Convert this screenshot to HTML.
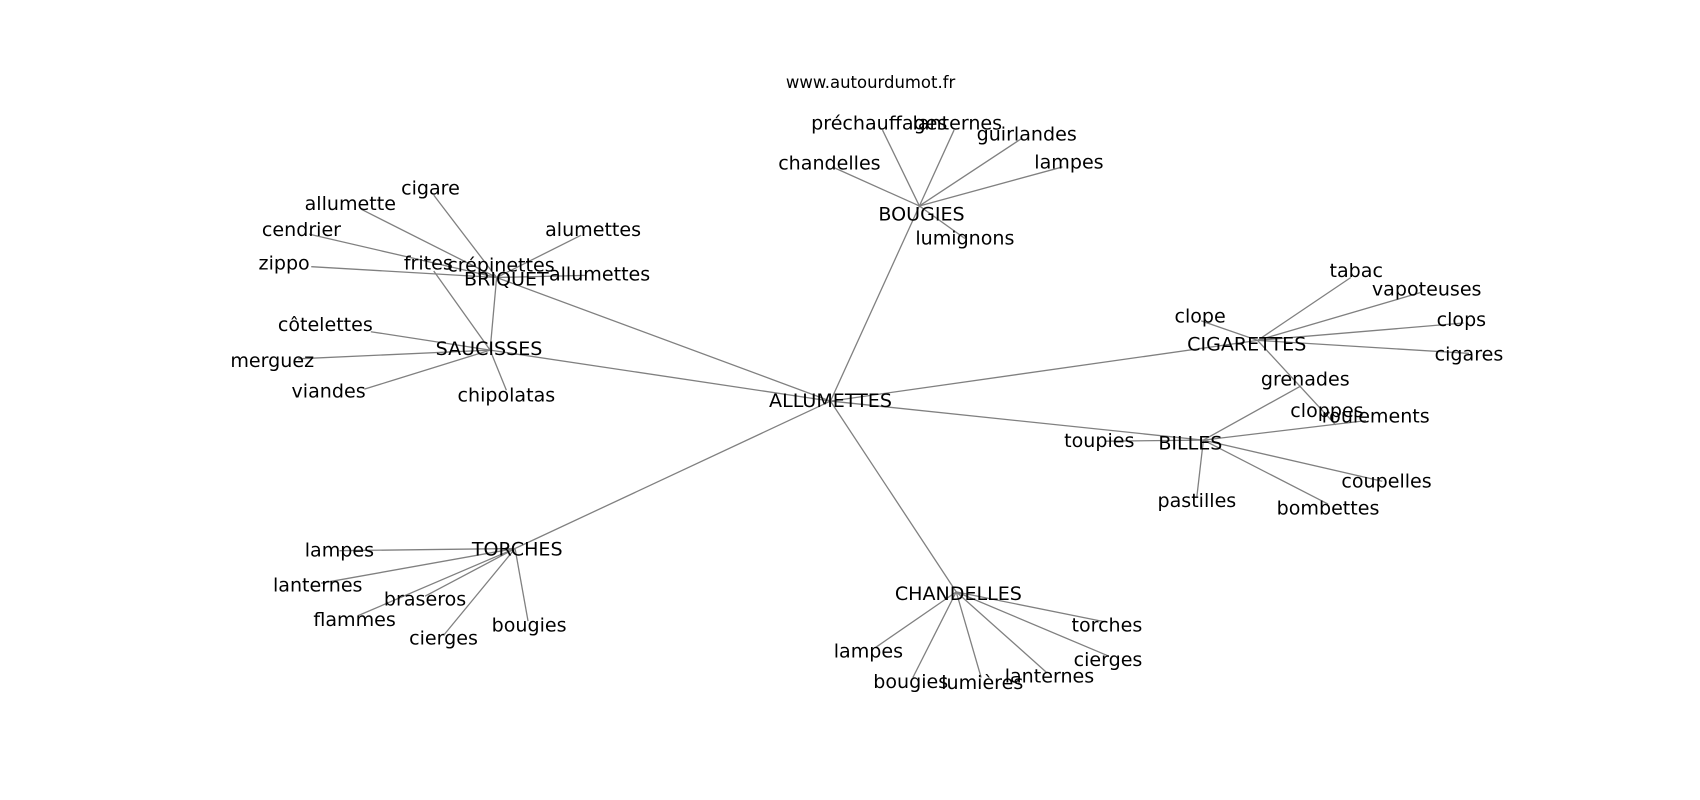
<!DOCTYPE html>
<html><head><meta charset="utf-8"><style>
html,body{margin:0;padding:0;background:#fff;}
svg{display:block}
text{font-family:"DejaVu Sans","Liberation Sans",sans-serif;font-size:17.6px;fill:#000;text-anchor:middle;dominant-baseline:central}
line{stroke:#808080;stroke-width:1.2}
</style></head><body>
<svg width="1700" height="800" viewBox="0 0 1568 738">
<g>
<line x1="766" y1="370" x2="458" y2="256"/>
<line x1="766" y1="370" x2="452" y2="323"/>
<line x1="766" y1="370" x2="848" y2="190"/>
<line x1="766" y1="370" x2="1160" y2="314"/>
<line x1="766" y1="370" x2="1110" y2="406"/>
<line x1="766" y1="370" x2="475" y2="506"/>
<line x1="766" y1="370" x2="882" y2="546"/>
<line x1="458" y1="256" x2="400" y2="180"/>
<line x1="458" y1="256" x2="333" y2="193"/>
<line x1="458" y1="256" x2="285" y2="216"/>
<line x1="458" y1="256" x2="287" y2="246"/>
<line x1="458" y1="256" x2="536" y2="217"/>
<line x1="458" y1="256" x2="540" y2="254"/>
<line x1="458" y1="256" x2="452" y2="323"/>
<line x1="452" y1="323" x2="400" y2="250"/>
<line x1="452" y1="323" x2="342" y2="306"/>
<line x1="452" y1="323" x2="275" y2="331"/>
<line x1="452" y1="323" x2="336" y2="359"/>
<line x1="452" y1="323" x2="467" y2="360"/>
<line x1="848" y1="190" x2="814" y2="120"/>
<line x1="848" y1="190" x2="880" y2="120"/>
<line x1="848" y1="190" x2="942" y2="128"/>
<line x1="848" y1="190" x2="980" y2="154"/>
<line x1="848" y1="190" x2="770" y2="155"/>
<line x1="848" y1="190" x2="890" y2="220"/>
<line x1="1160" y1="314" x2="1246" y2="256"/>
<line x1="1160" y1="314" x2="1310" y2="270"/>
<line x1="1160" y1="314" x2="1350" y2="298"/>
<line x1="1160" y1="314" x2="1355" y2="326"/>
<line x1="1160" y1="314" x2="1108" y2="296"/>
<line x1="1160" y1="314" x2="1232" y2="392"/>
<line x1="1110" y1="406" x2="1200" y2="356"/>
<line x1="1110" y1="406" x2="1260" y2="388"/>
<line x1="1110" y1="406" x2="1275" y2="444"/>
<line x1="1110" y1="406" x2="1225" y2="465"/>
<line x1="1110" y1="406" x2="1104" y2="458"/>
<line x1="1110" y1="406" x2="1020" y2="407"/>
<line x1="475" y1="506" x2="313" y2="508"/>
<line x1="475" y1="506" x2="296" y2="538"/>
<line x1="475" y1="506" x2="392" y2="550"/>
<line x1="475" y1="506" x2="330" y2="568"/>
<line x1="475" y1="506" x2="410" y2="585"/>
<line x1="475" y1="506" x2="487" y2="573"/>
<line x1="882" y1="546" x2="808" y2="597"/>
<line x1="882" y1="546" x2="842" y2="625"/>
<line x1="882" y1="546" x2="905" y2="625"/>
<line x1="882" y1="546" x2="965" y2="620"/>
<line x1="882" y1="546" x2="1022" y2="605"/>
<line x1="882" y1="546" x2="1021" y2="574"/>
</g>
<text x="803" y="76" style="font-size:15.2px">www.autourdumot.fr</text>
<text x="766" y="370">ALLUMETTES</text>
<text x="467" y="258">BRIQUET</text>
<text x="451" y="322">SAUCISSES</text>
<text x="850" y="198">BOUGIES</text>
<text x="1150" y="318">CIGARETTES</text>
<text x="1098" y="409">BILLES</text>
<text x="477" y="507">TORCHES</text>
<text x="884" y="548">CHANDELLES</text>

<text x="397" y="174">cigare</text>
<text x="323" y="188">allumette</text>
<text x="278" y="212">cendrier</text>
<text x="262" y="243">zippo</text>
<text x="547" y="212">alumettes</text>
<text x="553" y="253">allumettes</text>
<text x="462" y="245">crépinettes</text>
<text x="395" y="243">frites</text>
<text x="300" y="300">côtelettes</text>
<text x="251" y="333">merguez</text>
<text x="303" y="361">viandes</text>
<text x="467" y="365">chipolatas</text>

<text x="811" y="114">préchauffages</text>
<text x="883" y="114">lanternes</text>
<text x="947" y="124">guirlandes</text>
<text x="986" y="150">lampes</text>
<text x="765" y="151">chandelles</text>
<text x="890" y="220">lumignons</text>

<text x="1251" y="250">tabac</text>
<text x="1316" y="267">vapoteuses</text>
<text x="1348" y="295">clops</text>
<text x="1355" y="327">cigares</text>
<text x="1107" y="292">clope</text>
<text x="1224" y="379">cloppes</text>

<text x="1204" y="350">grenades</text>
<text x="1269" y="384">roulements</text>
<text x="1279" y="444">coupelles</text>
<text x="1225" y="469">bombettes</text>
<text x="1104" y="462">pastilles</text>
<text x="1014" y="407">toupies</text>

<text x="313" y="508">lampes</text>
<text x="293" y="540">lanternes</text>
<text x="392" y="553">braseros</text>
<text x="327" y="572">flammes</text>
<text x="409" y="589">cierges</text>
<text x="488" y="577">bougies</text>

<text x="801" y="601">lampes</text>
<text x="840" y="629">bougies</text>
<text x="906" y="630">lumières</text>
<text x="968" y="624">lanternes</text>
<text x="1022" y="609">cierges</text>
<text x="1021" y="577">torches</text>
</svg>
</body></html>
